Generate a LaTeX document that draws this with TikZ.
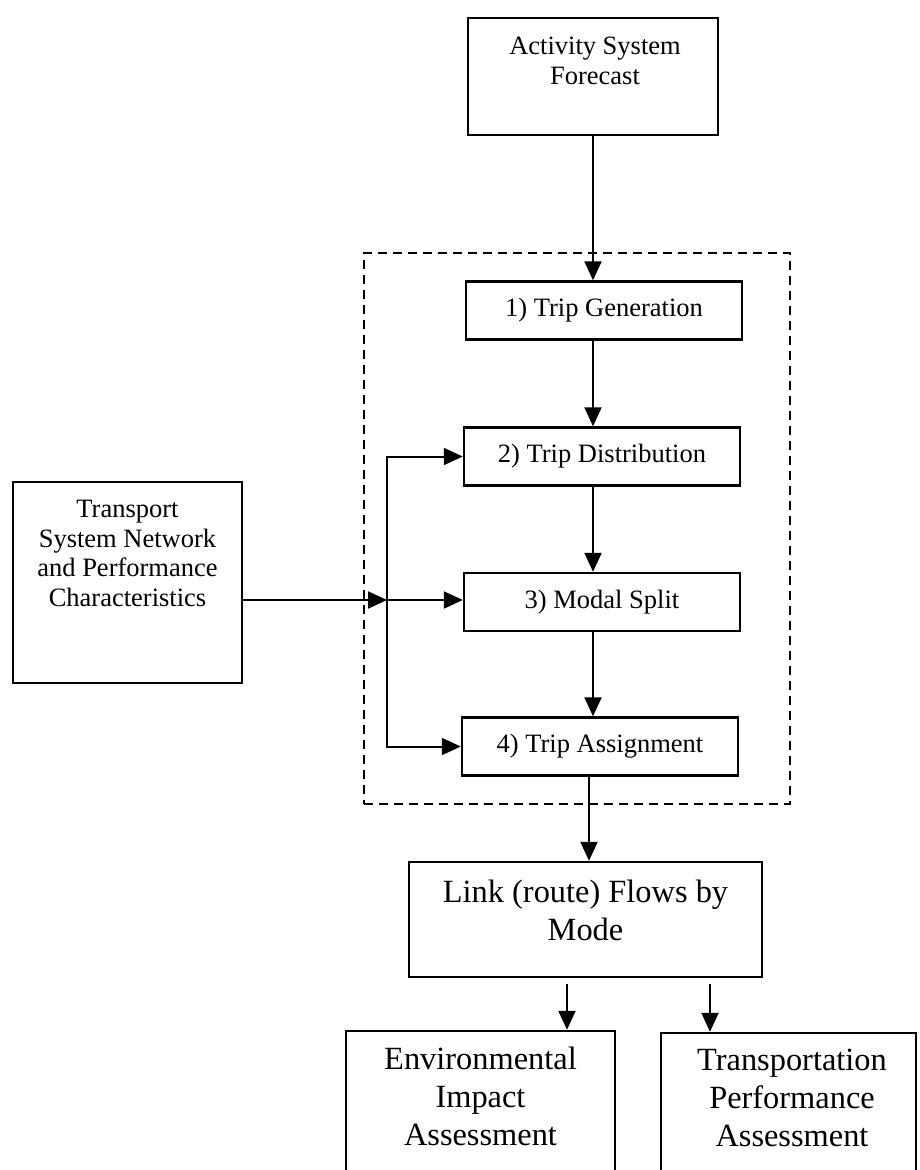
\documentclass[tikz,border=0pt]{standalone}
\usepackage{fontspec}
\setmainfont{Liberation Serif}
\usetikzlibrary{arrows.meta}
\begin{document}
\begin{tikzpicture}[x=1pt,y=-1pt,
  boxframe/.style={draw, line width=2.4pt, inner sep=0pt},
  smalltxt/.style={font=\fontsize{26.5}{29.5}\selectfont, align=center, inner sep=0pt},
  bigtxt/.style={font=\fontsize{32.4}{38}\selectfont, align=center, inner sep=0pt},
  stagebox/.style={boxframe, smalltxt, minimum width=276pt, minimum height=58pt},
  arr/.style={line width=2pt, line join=miter, -{Triangle[length=19pt,width=17pt]}},
  groupframe/.style={draw, line width=2.4pt, dash pattern=on 9pt off 6pt, inner sep=0pt}]

\clip (0,0) rectangle (919,1170);
\fill[white] (0,0) rectangle (919,1170);

% dashed frame around the four modelling stages
\node[groupframe, minimum width=426pt, minimum height=551pt] (grp) at (577,528.5) {};

% activity forecast
\node[boxframe, minimum width=250pt, minimum height=117pt] (act) at (593,76.5) {};
\node[smalltxt, anchor=north] (actT) at (595,37) {Activity System\\Forecast};

% the four stages
\node[stagebox] (tg) at (604,310.5) {1) Trip Generation};
\node[stagebox] (td) at (602,456.5) {2) Trip Distribution};
\node[stagebox] (ms) at (602,602) {3) Modal Split};
\node[stagebox] (ta) at (600,746.5) {4) Trip Assignment};

% transport system input
\node[boxframe, minimum width=229pt, minimum height=201pt] (trs) at (127.5,582.5) {};
\node[smalltxt, anchor=north] (trsT) at (127.5,500) {Transport\\System Network\\and Performance\\Characteristics};

% link flows
\node[boxframe, minimum width=353pt, minimum height=115pt] (link) at (585.5,919.5) {};
\node[bigtxt, anchor=north] (linkT) at (585.5,880) {Link (route) Flows by\\Mode};

% assessments
\node[boxframe, minimum width=269pt, minimum height=229pt] (env) at (480.5,1145.5) {};
\node[bigtxt, anchor=north] (envT) at (480.5,1047) {Environmental\\Impact\\Assessment};
\node[boxframe, minimum width=255pt, minimum height=227pt] (trn) at (788.5,1146.5) {};
\node[bigtxt, anchor=north] (trnT) at (792,1049) {Transportation\\Performance\\Assessment};

% connector positions
\coordinate (ax) at (593,0);
\coordinate (axb) at (589,0);
\coordinate (jn) at (387,600);
\coordinate (e1) at (567,984);
\coordinate (e2) at (710,984);

% main chain
\draw[arr] (act.south -| ax) -- (tg.north -| ax);
\draw[arr] (tg.south -| ax) -- (td.north -| ax);
\draw[arr] (td.south -| ax) -- (ms.north -| ax);
\draw[arr] (ms.south -| ax) -- (ta.north -| ax);
\draw[arr] (ta.south -| axb) -- (link.north -| axb);

% transport system feeding stages 2-4
\draw[arr] (trs.east |- jn) -- (jn);
\draw[arr] (jn) -- (ms.west |- jn);
\draw[arr] (jn) |- (td.west);
\draw[arr] (jn) |- (ta.west);

% link flows to assessments
\draw[arr] (e1) -- (env.north -| e1);
\draw[arr] (e2) -- (trn.north -| e2);
\end{tikzpicture}
\end{document}
